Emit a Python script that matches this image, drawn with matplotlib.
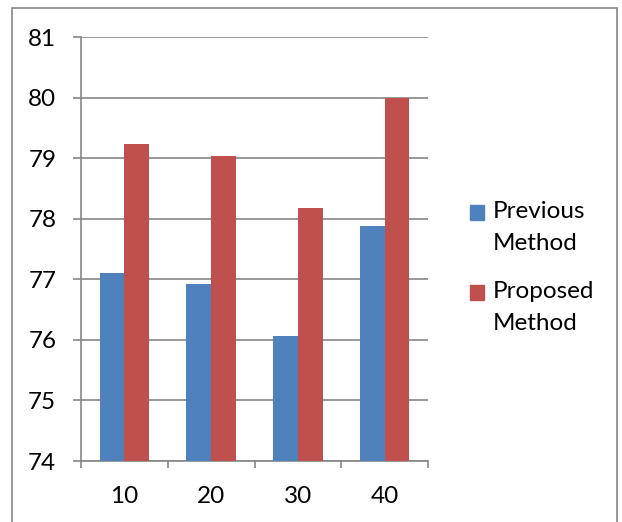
import matplotlib
matplotlib.use("Agg")
import matplotlib.pyplot as plt
from matplotlib.patches import Rectangle
import numpy as np

# Datos del grafico
categorias = ["10", "20", "30", "40"]
serie_nombres = [("Previous", "Method"), ("Proposed", "Method")]
previo = [77.10, 76.92, 76.06, 77.88]
propuesto = [79.23, 79.04, 78.18, 80.00]
colores = ["#4F81BD", "#C0504D"]
y_ticks = [74, 75, 76, 77, 78, 79, 80, 81]

plt.rcParams["font.family"] = ["Lato", "DejaVu Sans"]
GRIS = "#868686"
FS = 17.5

W, H = 622, 522
fig = plt.figure(figsize=(W / 100, H / 100), dpi=100)

# Marco exterior del grafico
fig.patches.append(Rectangle((12 / W, -0.05), 605 / W, (H - 8) / H + 0.05,
                             transform=fig.transFigure, fill=False,
                             edgecolor=GRIS, lw=1.2))

ax = fig.add_axes([81 / W, (H - 461) / H, (428 - 81) / W, (461 - 37.3) / H])

x = np.arange(len(categorias))
ancho = 1.0 / 3.5  # gap width 150%
ax.bar(x - ancho / 2, previo, ancho, bottom=0, color=colores[0], zorder=3)
ax.bar(x + ancho / 2, propuesto, ancho, bottom=0, color=colores[1], zorder=3)

ax.set_xlim(-0.5, len(categorias) - 0.5)
ax.set_ylim(y_ticks[0], y_ticks[-1])
ax.set_yticks(y_ticks)
ax.set_yticklabels([str(v) for v in y_ticks], fontsize=FS)
ax.yaxis.grid(True, color=GRIS, lw=1.2, zorder=0)

# ticks del eje x en los limites de categoria, etiquetas en el centro
ax.set_xticks(np.arange(len(categorias) + 1) - 0.5)
ax.set_xticklabels([])
ax.set_xticks(x, minor=True)
ax.set_xticklabels(categorias, minor=True, fontsize=FS)
ax.tick_params(axis="x", which="major", length=5, width=1.2, color=GRIS,
               direction="out")
ax.tick_params(axis="x", which="minor", length=0, pad=18)
ax.tick_params(axis="y", length=5.8, width=1.2, color=GRIS, pad=12)

for lado in ("top", "right"):
    ax.spines[lado].set_visible(False)
for lado in ("left", "bottom"):
    ax.spines[lado].set_color(GRIS)
    ax.spines[lado].set_linewidth(1.2)

# Leyenda a la derecha
y_lineas = [(212, 243), (292, 323)]
for (l1, l2), (ya, yb), c in zip(serie_nombres, y_lineas, colores):
    fig.patches.append(Rectangle((470 / W, (H - ya - 7.5) / H), 14 / W, 15 / H,
                                 transform=fig.transFigure, color=c))
    fig.text(493 / W, (H - ya) / H, l1, fontsize=FS, va="center", ha="left")
    fig.text(493 / W, (H - yb) / H, l2, fontsize=FS, va="center", ha="left")

fig.savefig("out.png", dpi=100)
